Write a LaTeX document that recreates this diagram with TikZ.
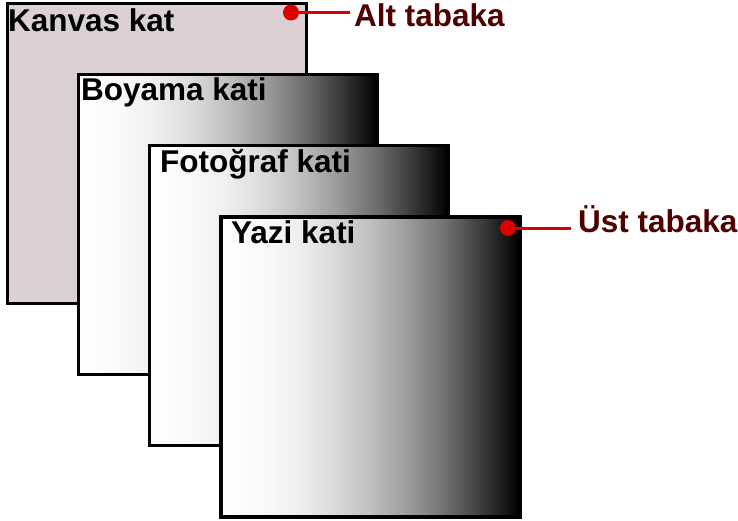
\documentclass[tikz,border=0pt]{standalone}
\usepackage{fontspec}
\setmainfont{Liberation Sans}
\usepackage{tikz}

\definecolor{canvasfill}{RGB}{220,208,212}
\definecolor{markred}{RGB}{221,0,0}
\definecolor{labelred}{RGB}{80,0,0}

% white to black, lighter through the middle
\pgfdeclarehorizontalshading{layershade}{100bp}{color(0bp)=(white);
  color(25bp)=(white); color(31.25bp)=(black!2); color(37.5bp)=(black!6);
  color(43.75bp)=(black!14); color(50bp)=(black!25); color(56.25bp)=(black!39);
  color(62.5bp)=(black!56); color(68.75bp)=(black!77); color(75bp)=(black);
  color(100bp)=(black)}

\tikzset{
  layerbox/.style={draw=black, line width=3.4pt, rectangle, inner sep=0pt,
    minimum width=299pt, minimum height=300pt, anchor=north west},
  shaded/.style={shading=layershade},
  layertext/.style={anchor=base west, inner sep=0pt,
    font=\fontsize{31.5}{36}\selectfont\bfseries},
  sidetext/.style={layertext, text=labelred},
  markdot/.style={circle, fill=markred, inner sep=0pt, minimum size=16pt},
  pointer/.style={draw=markred, line width=3pt, shorten >=4pt}
}

\begin{document}
\begin{tikzpicture}[x=1pt, y=-1pt]
        \useasboundingbox (0,0) rectangle (738,520);
        % layers, back to front
        \node[layerbox, fill=canvasfill] (kanvas) at (5.5,1.5) {};
        \node[layertext] (kanvastxt) at (8,31) {Kanvas kat};
        \node[layerbox, shaded] (boyama) at (76.7,72.7) {};
        \node[layertext] (boyamatxt) at (81,100.5) {Boyama kati};
        \node[layerbox, shaded] (fotograf) at (147.9,143.9) {};
        \node[layertext] (fotograftxt) at (160,172) {Fotoğraf kati};
        \node[layerbox, shaded] (yazi) at (219.1,215.1) {};
        \node[layertext] (yazitxt) at (231,243) {Yazi kati};
        % side notes
        \node[markdot] (altdot) at (291,12.5) {};
        \node[sidetext] (alttxt) at (354,26) {Alt tabaka};
        \node[markdot] (ustdot) at (508,228) {};
        \node[sidetext] (usttxt) at (578,232) {Üst tabaka};
        \draw[pointer] (altdot.center) -- (altdot -| alttxt.west);
        \draw[pointer, shorten >=7pt] (ustdot.center) -- (ustdot -| usttxt.west);
    \end{tikzpicture}
\end{document}
